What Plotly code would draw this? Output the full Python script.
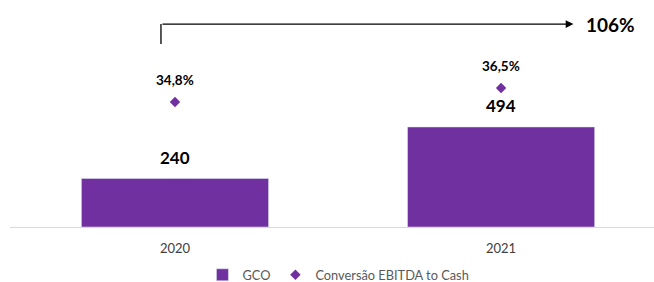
import plotly.graph_objects as go

years = ["2020", "2021"]
gco = [240, 494]
conversao = [34.8, 36.5]
conversao_labels = ["34,8%", "36,5%"]
growth_label = "106%"

PURPLE = "#7030A0"
FONT = "Lato, Open Sans, sans-serif"

xs = list(range(len(years)))

fig = go.Figure()
fig.add_trace(go.Bar(x=xs, y=gco, name="GCO", marker_color=PURPLE, width=0.574,
                     yaxis="y"))
fig.add_trace(go.Scatter(x=xs, y=conversao, name="Conversão EBITDA to Cash", mode="markers",
                         marker=dict(symbol="diamond", size=8, color=PURPLE), yaxis="y2"))

for x, v in zip(xs, gco):
    fig.add_annotation(x=x, y=v, xref="x", yref="y", text=f"<b>{v}</b>", showarrow=False,
                       yanchor="middle", yshift=21, font=dict(size=17, color="#000000", family=FONT))
for x, v, t in zip(xs, conversao, conversao_labels):
    fig.add_annotation(x=x, y=v, xref="x", yref="y2", text=f"<b>{t}</b>", showarrow=False,
                       yanchor="middle", yshift=22, font=dict(size=13.5, color="#000000", family=FONT))

# growth arrow
ytop = 0.935
fig.add_shape(type="line", xref="x", yref="paper", x0=-0.043, x1=-0.043, y0=0.843, y1=ytop,
              line=dict(color="#000000", width=1.3))
fig.add_annotation(x=1.222, y=ytop, xref="x", yref="paper", ax=-0.043, ay=0,
                   axref="x", ayref="pixel", showarrow=True, arrowhead=2, arrowsize=1.2,
                   arrowwidth=1.3, arrowcolor="#000000", text="")
fig.add_annotation(x=1.254, y=ytop, xref="x", yref="paper", text=f"<b>{growth_label}</b>",
                   showarrow=False, xanchor="left", yanchor="middle",
                   font=dict(size=19, color="#000000", family=FONT))

fig.update_layout(
    width=654, height=282,
    margin=dict(l=10, r=0, t=10, b=55),
    paper_bgcolor="white", plot_bgcolor="white",
    font=dict(family=FONT, color="#404040"),
    showlegend=True,
    legend=dict(orientation="h", x=0.51, xanchor="center", yref="container", y=0.025,
                yanchor="middle", font=dict(size=12.8, color="#595959", family=FONT),
                itemwidth=30, tracegroupgap=0),
    xaxis=dict(range=[-0.506, 1.469], tickvals=xs, ticktext=years, showline=True,
               linecolor="#d9d9d9", linewidth=1, showgrid=False, zeroline=False,
               tickfont=dict(size=13, color="#404040", family=FONT), ticks="",
               ticklabelstandoff=9),
    yaxis=dict(range=[0, 1071.6], visible=False, showgrid=False),
    yaxis2=dict(range=[19.63, 45.96], overlaying="y", visible=False, showgrid=False),
)

fig.write_html("out.html", config={"displayModeBar": False},
               post_script="document.body.style.margin='0';")
